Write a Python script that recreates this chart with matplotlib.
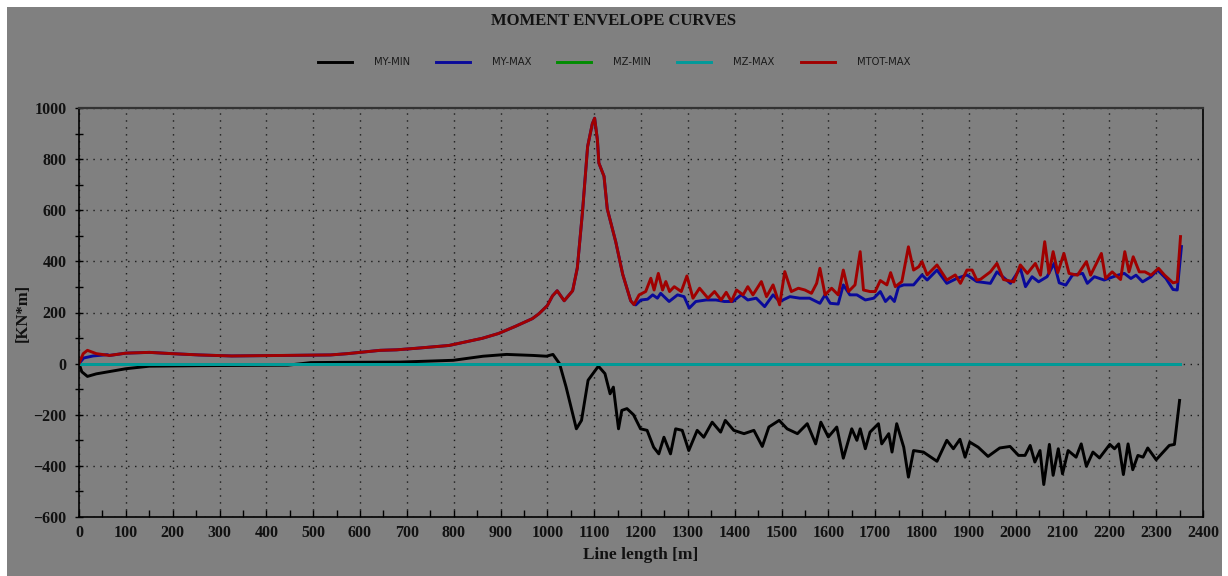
# Moment envelope curves along the line
import matplotlib.pyplot as plt
from matplotlib.patches import Rectangle

# MY-MIN (black)
my_min_x = [0, 6, 18, 37, 100, 150, 256, 446, 495, 560, 685, 799, 863, 913, 970, 998, 1012,
            1026, 1040, 1062, 1073, 1087, 1109, 1123, 1134, 1141, 1152, 1159, 1170, 1184, 1199,
            1213, 1227, 1238, 1249, 1263, 1274, 1288, 1302, 1320, 1334, 1352, 1370, 1380, 1398,
            1420, 1441, 1459, 1473, 1495, 1512, 1534, 1555, 1573, 1584, 1600, 1618, 1632, 1650,
            1661, 1668, 1679, 1689, 1707, 1714, 1729, 1736, 1746, 1761, 1771, 1782, 1803, 1832,
            1853, 1867, 1881, 1892, 1902, 1920, 1941, 1966, 1988, 2006, 2020, 2031, 2041, 2052,
            2060, 2072, 2080, 2091, 2100, 2112, 2129, 2140, 2151, 2165, 2179, 2201, 2211, 2220,
            2230, 2240, 2250, 2261, 2272, 2282, 2300, 2328, 2339, 2350]
my_min_y = [0, -32, -50, -40, -20, -10, -8, -6, 4, 5, 6, 13, 29, 36, 32, 29, 36,
            0, -91, -255, -222, -65, -10, -39, -118, -92, -255, -183, -176, -200, -255,
            -261, -327, -353, -288, -353, -255, -261, -340, -261, -288, -229, -268, -222, -261,
            -274, -261, -324, -248, -222, -255, -274, -235, -314, -229, -287, -248, -370, -255,
            -300, -255, -333, -268, -235, -314, -274, -346, -235, -327, -444, -340, -346, -382,
            -300, -333, -296, -366, -307, -327, -363, -330, -324, -359, -359, -320, -385, -340,
            -473, -316, -437, -333, -431, -340, -366, -314, -402, -346, -369, -316, -333, -314,
            -434, -314, -415, -359, -366, -330, -376, -320, -316, -144]

# MTOT-MAX (red)
mtot_max_x = [0, 9, 18, 37, 65, 100, 150, 199, 256, 326, 439, 537, 573, 643, 678, 720, 790,
              861, 896, 932, 968, 982, 1000, 1011, 1021, 1036, 1054, 1064, 1075, 1086, 1096,
              1101, 1107, 1110, 1121, 1128, 1146, 1161, 1178, 1185,
              1196, 1210, 1221, 1228, 1237, 1246, 1253, 1261, 1271, 1286, 1298, 1311, 1325,
              1343, 1357, 1371, 1382, 1393, 1404, 1418, 1428, 1439, 1457, 1468, 1482, 1496,
              1507, 1521, 1536, 1550, 1564, 1575, 1582, 1593, 1607, 1621, 1632, 1643, 1657,
              1668, 1675, 1689, 1700, 1711, 1725, 1733, 1743, 1757, 1771, 1782, 1793, 1800,
              1811, 1832, 1853, 1871, 1882, 1896, 1907, 1917, 1925, 1946, 1960, 1974, 1996,
              2010, 2025, 2042, 2053, 2062, 2071, 2080, 2090, 2103, 2114, 2132, 2151, 2160,
              2183, 2192, 2206, 2224, 2233, 2242, 2251, 2264, 2276, 2289, 2305, 2318, 2336,
              2345, 2352]
mtot_max_y = [0, 39, 52, 39, 32, 41, 44, 39, 34, 30, 32, 34, 39, 52, 54, 60, 71,
              99, 118, 146, 176, 195, 227, 265, 285, 246, 285, 374, 592, 849, 938,
              960, 874, 785, 733, 605, 477, 349, 246, 231,
              269, 282, 334, 288, 353, 288, 321, 282, 301, 282, 343, 256, 295,
              256, 282, 249, 279, 243, 288, 269, 301, 269, 321, 262, 308, 230,
              360, 282, 295, 288, 275, 314, 373, 269, 295, 269, 366, 282, 308,
              438, 288, 282, 282, 325, 308, 356, 301, 321, 457, 366, 379, 399,
              347, 386, 327, 347, 314, 366, 366, 327, 330, 359, 392, 329, 320,
              386, 353, 392, 346, 477, 353, 438, 356, 431, 353, 346, 399, 346,
              431, 333, 359, 329, 438, 359, 418, 359, 359, 346, 373, 346, 316,
              320, 497]

# MY-MAX (blue): own start, same as MTOT-MAX from 65 m to 1185 m, own values after
my_max_x = ([0, 10, 30, 60] + mtot_max_x[4:40] +
            [1189, 1200, 1214, 1225, 1235, 1242, 1260, 1278, 1292, 1303, 1317, 1339, 1360,
             1378, 1396, 1414, 1428, 1446, 1464, 1482, 1496, 1518, 1539, 1560, 1582, 1593,
             1604, 1621, 1632, 1646, 1661, 1679, 1697, 1711, 1722, 1732, 1741, 1750, 1761,
             1782, 1800, 1811, 1832, 1853, 1875, 1896, 1917, 1946, 1960, 1989, 2010, 2021,
             2035, 2049, 2067, 2082, 2093, 2107, 2121, 2143, 2153, 2168, 2189, 2218, 2232,
             2246, 2257, 2271, 2289, 2303, 2321, 2336, 2345, 2354])
my_max_y = ([0, 22, 30, 35] + mtot_max_y[4:40] +
            [230, 249, 252, 269, 256, 275, 243, 269, 262, 217, 243, 249, 249,
             243, 243, 269, 249, 256, 223, 269, 243, 262, 256, 256, 236, 269,
             236, 233, 308, 269, 269, 249, 256, 282, 243, 262, 243, 301, 308,
             308, 347, 327, 366, 314, 334, 347, 321, 314, 359, 314, 373, 301,
             340, 320, 340, 392, 316, 307, 346, 353, 314, 340, 327, 346, 353,
             333, 346, 320, 340, 366, 333, 290, 288, 458])

# MZ-MIN / MZ-MAX are zero along the whole line
mz_x = [0, 2350]
mz_min_y = [0, 0]
mz_max_y = [0, 0]

labels = ["MY-MIN", "MY-MAX", "MZ-MIN", "MZ-MAX", "MTOT-MAX"]
colors = ["#000000", "#0A0A9A", "#008C00", "#009A9A", "#A00000"]

GRAY = "#808080"
serif = {"family": "Liberation Serif", "weight": "bold"}

fig = plt.figure(figsize=(12.28, 5.76), dpi=100, facecolor="white")
fig.patches.append(Rectangle((7 / 1228, 0), 1215 / 1228, 569 / 576, transform=fig.transFigure,
                             facecolor=GRAY, edgecolor="none", zorder=-10))

ax = fig.add_axes([79 / 1228, 1 - 517 / 576, 1124 / 1228, 409 / 576])
ax.set_facecolor(GRAY)

series = [(my_min_x, my_min_y), (my_max_x, my_max_y), (mz_x, mz_min_y), (mz_x, mz_max_y),
          (mtot_max_x, mtot_max_y)]
for (xs, ys), lab, c in zip(series, labels, colors):
    ax.plot(xs, ys, color=c, lw=2.1, label=lab)

ax.set_xlim(0, 2400)
ax.set_ylim(-600, 1000)
ax.set_xticks(range(0, 2401, 100))
ax.set_xticks(range(50, 2400, 100), minor=True)
ax.set_yticks(range(-600, 1001, 200))
ax.set_yticks(range(-500, 1000, 200), minor=True)
ax.grid(True, which="major", color="#1a1a1a", linestyle=(0, (1, 4)), linewidth=1.0)

ax.tick_params(axis="x", which="both", direction="in", length=5, width=1, colors="black")
ax.tick_params(axis="y", which="both", direction="inout", length=6, width=1, colors="black")
ax.tick_params(axis="both", labelsize=11.5, labelcolor="#111111", pad=6)
for lbl in ax.get_xticklabels() + ax.get_yticklabels():
    lbl.set_fontfamily("Liberation Serif")
    lbl.set_fontweight("bold")

for side in ["left", "bottom", "right"]:
    ax.spines[side].set_color("black")
    ax.spines[side].set_linewidth(1.2)
ax.spines["top"].set_color("#333333")
ax.spines["top"].set_linewidth(1.6)

ax.set_xlabel("Line length [m]", fontsize=12.5, color="#111111", labelpad=4, **serif)
ax.set_ylabel("[KN*m]", fontsize=12, color="#111111", labelpad=2, **serif)

fig.text(0.5, 1 - 21 / 576, "MOMENT ENVELOPE CURVES", ha="center", va="center",
         fontsize=12, color="#111111", **serif)

fig.legend(loc="center", bbox_to_anchor=(0.5, 1 - 62 / 576), ncol=5, frameon=False,
           handlelength=3.4, handletextpad=2.2, columnspacing=2.6,
           prop={"family": "DejaVu Sans", "size": 7.2}, labelcolor="#1a1a1a")

fig.savefig("out.png", dpi=100, facecolor=fig.get_facecolor())
